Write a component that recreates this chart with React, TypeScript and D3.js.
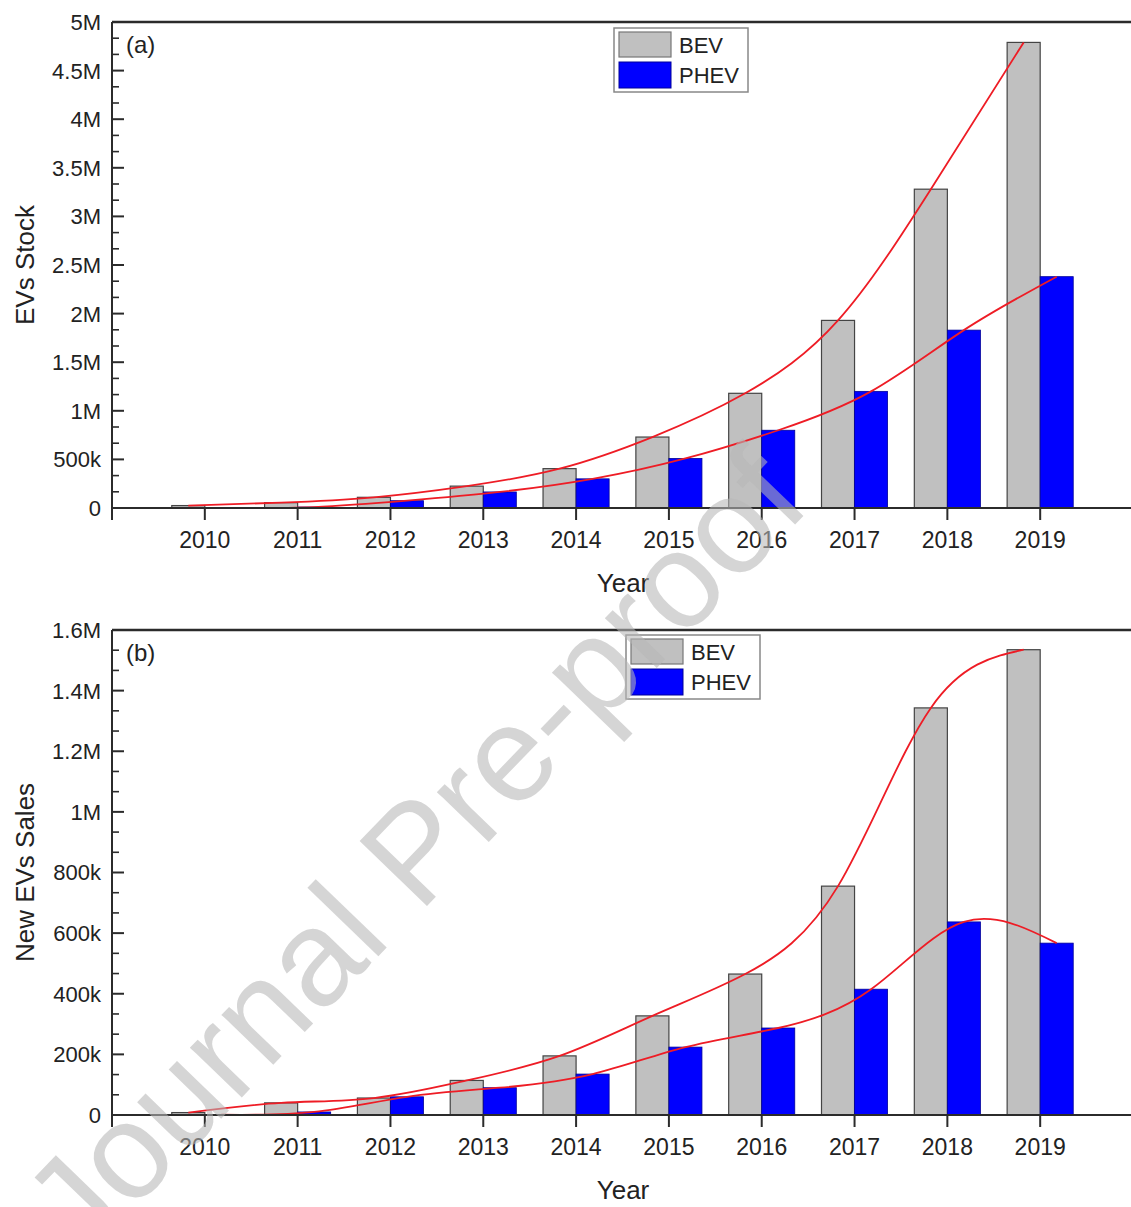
import React from "react";
import * as d3 from "d3";

// data
const years = [2010, 2011, 2012, 2013, 2014, 2015, 2016, 2017, 2018, 2019];
const stockBEV = [25000, 55000, 110000, 225000, 405000, 730000, 1180000, 1930000, 3280000, 4790000];
const stockPHEV = [2000, 10000, 75000, 165000, 300000, 510000, 800000, 1200000, 1830000, 2380000];
const salesBEV = [8000, 40000, 56000, 114000, 195000, 327000, 465000, 755000, 1343000, 1535000];
const salesPHEV = [1000, 10000, 60000, 90000, 135000, 224000, 287000, 415000, 637000, 567000];

const stockTicks = [0, 500000, 1000000, 1500000, 2000000, 2500000, 3000000, 3500000, 4000000, 4500000, 5000000];
const stockTickLabels = ["0", "500k", "1M", "1.5M", "2M", "2.5M", "3M", "3.5M", "4M", "4.5M", "5M"];
const salesTicks = [0, 200000, 400000, 600000, 800000, 1000000, 1200000, 1400000, 1600000];
const salesTickLabels = ["0", "200k", "400k", "600k", "800k", "1M", "1.2M", "1.4M", "1.6M"];

const W = 1131;
const H = 1207;
const FONT = "'Liberation Sans', Arial, sans-serif";
const AXIS = "#2b2b2b";

const x = d3.scaleLinear().domain([2009, 2020]).range([112, 1133]);
const bw = (x(2010) - x(2009)) * 0.356;

function Panel(props) {
  const { top, bottom, max, ticks, tickLabels, bev, phev, tag, yLabel, legendX, legendY } = props;
  const y = d3.scaleLinear().domain([0, max]).range([bottom, top]);
  const step = ticks[1] - ticks[0];
  const minor = [];
  ticks.slice(0, -1).forEach(t => { minor.push(t + step / 3, t + (2 * step) / 3); });

  const line = d3.line().curve(d3.curveNatural);
  const bevPath = line(years.map((yr, i) => [x(yr) - bw / 2, y(bev[i])]));
  const phevPath = line(years.map((yr, i) => [x(yr) + bw / 2, y(phev[i])]));
  const xTicks = d3.range(2009, 2020);

  return (
    <g>
      {/* bars */}
      {years.map((yr, i) => (
        <rect key={"b" + yr} x={x(yr) - bw} y={y(bev[i])} width={bw} height={bottom - y(bev[i])}
          fill="#c0c0c0" stroke="#444" strokeWidth={1.2} />
      ))}
      {years.map((yr, i) => (
        <rect key={"p" + yr} x={x(yr)} y={y(phev[i])} width={bw} height={bottom - y(phev[i])}
          fill="#0000ff" stroke="#00009a" strokeWidth={0.8} />
      ))}
      {/* fitted curves */}
      <path d={bevPath} fill="none" stroke="#ee1c25" strokeWidth={1.8} />
      <path d={phevPath} fill="none" stroke="#ee1c25" strokeWidth={1.8} />

      {/* frame top + axes */}
      <line x1={112} x2={W} y1={top} y2={top} stroke={AXIS} strokeWidth={2.5} />
      <line x1={112} x2={112} y1={top} y2={bottom} stroke={AXIS} strokeWidth={2} />
      <line x1={112} x2={W} y1={bottom} y2={bottom} stroke={AXIS} strokeWidth={2} />
      {ticks.map((t, i) => (
        <g key={"yt" + t}>
          <line x1={112} x2={124} y1={y(t)} y2={y(t)} stroke={AXIS} strokeWidth={2} />
          <text x={101} y={y(t)} dy="0.36em" textAnchor="end" fontSize={22} fill="#222" fontFamily={FONT}>{tickLabels[i]}</text>
        </g>
      ))}
      {minor.map(t => (
        <line key={"ym" + t} x1={112} x2={119} y1={y(t)} y2={y(t)} stroke={AXIS} strokeWidth={1.6} />
      ))}
      {xTicks.map(t => (
        <line key={"xt" + t} x1={x(t)} x2={x(t)} y1={bottom} y2={bottom + 12} stroke={AXIS} strokeWidth={2} />
      ))}
      {years.map(yr => (
        <text key={"xl" + yr} x={x(yr)} y={bottom + 40} textAnchor="middle" fontSize={23} fill="#222" fontFamily={FONT}>{yr}</text>
      ))}
      <text x={623} y={bottom + 84} textAnchor="middle" fontSize={26} fill="#222" fontFamily={FONT}>Year</text>
      <text transform={`translate(34,${(top + bottom) / 2}) rotate(-90)`} textAnchor="middle" fontSize={26} fill="#222" fontFamily={FONT}>{yLabel}</text>
      <text x={126} y={top + 31} fontSize={24} fill="#222" fontFamily={FONT}>{tag}</text>

      {/* legend */}
      <g transform={`translate(${legendX},${legendY})`}>
        <rect x={0} y={0} width={134} height={64} fill="#fff" stroke="#888" strokeWidth={1.5} />
        <rect x={5} y={4} width={52} height={25} fill="#c0c0c0" stroke="#777" strokeWidth={1.2} />
        <rect x={5} y={34} width={52} height={26} fill="#0000ff" stroke="#00009a" strokeWidth={1} />
        <text x={65} y={25} fontSize={22} fill="#222" fontFamily={FONT}>BEV</text>
        <text x={65} y={55} fontSize={22} fill="#222" fontFamily={FONT}>PHEV</text>
      </g>
    </g>
  );
}

export default function App() {
  return (
    <svg width={W} height={H} style={{ position: "absolute", left: 0, top: 0, background: "#fff" }}>
      <rect x={0} y={0} width={W} height={H} fill="#fff" />
      <Panel top={22} bottom={508} max={5000000} ticks={stockTicks} tickLabels={stockTickLabels}
        bev={stockBEV} phev={stockPHEV} tag="(a)" yLabel="EVs Stock" legendX={614} legendY={28} />
      <Panel top={630} bottom={1115} max={1600000} ticks={salesTicks} tickLabels={salesTickLabels}
        bev={salesBEV} phev={salesPHEV} tag="(b)" yLabel="New EVs Sales" legendX={626} legendY={635} />
      {/* watermark */}
      <text transform="translate(448,884) rotate(-46)" textAnchor="middle" fontSize={136}
        fill="#b7b7b7" fillOpacity={0.58} fontFamily={FONT}>Journal Pre-proof</text>
    </svg>
  );
}
